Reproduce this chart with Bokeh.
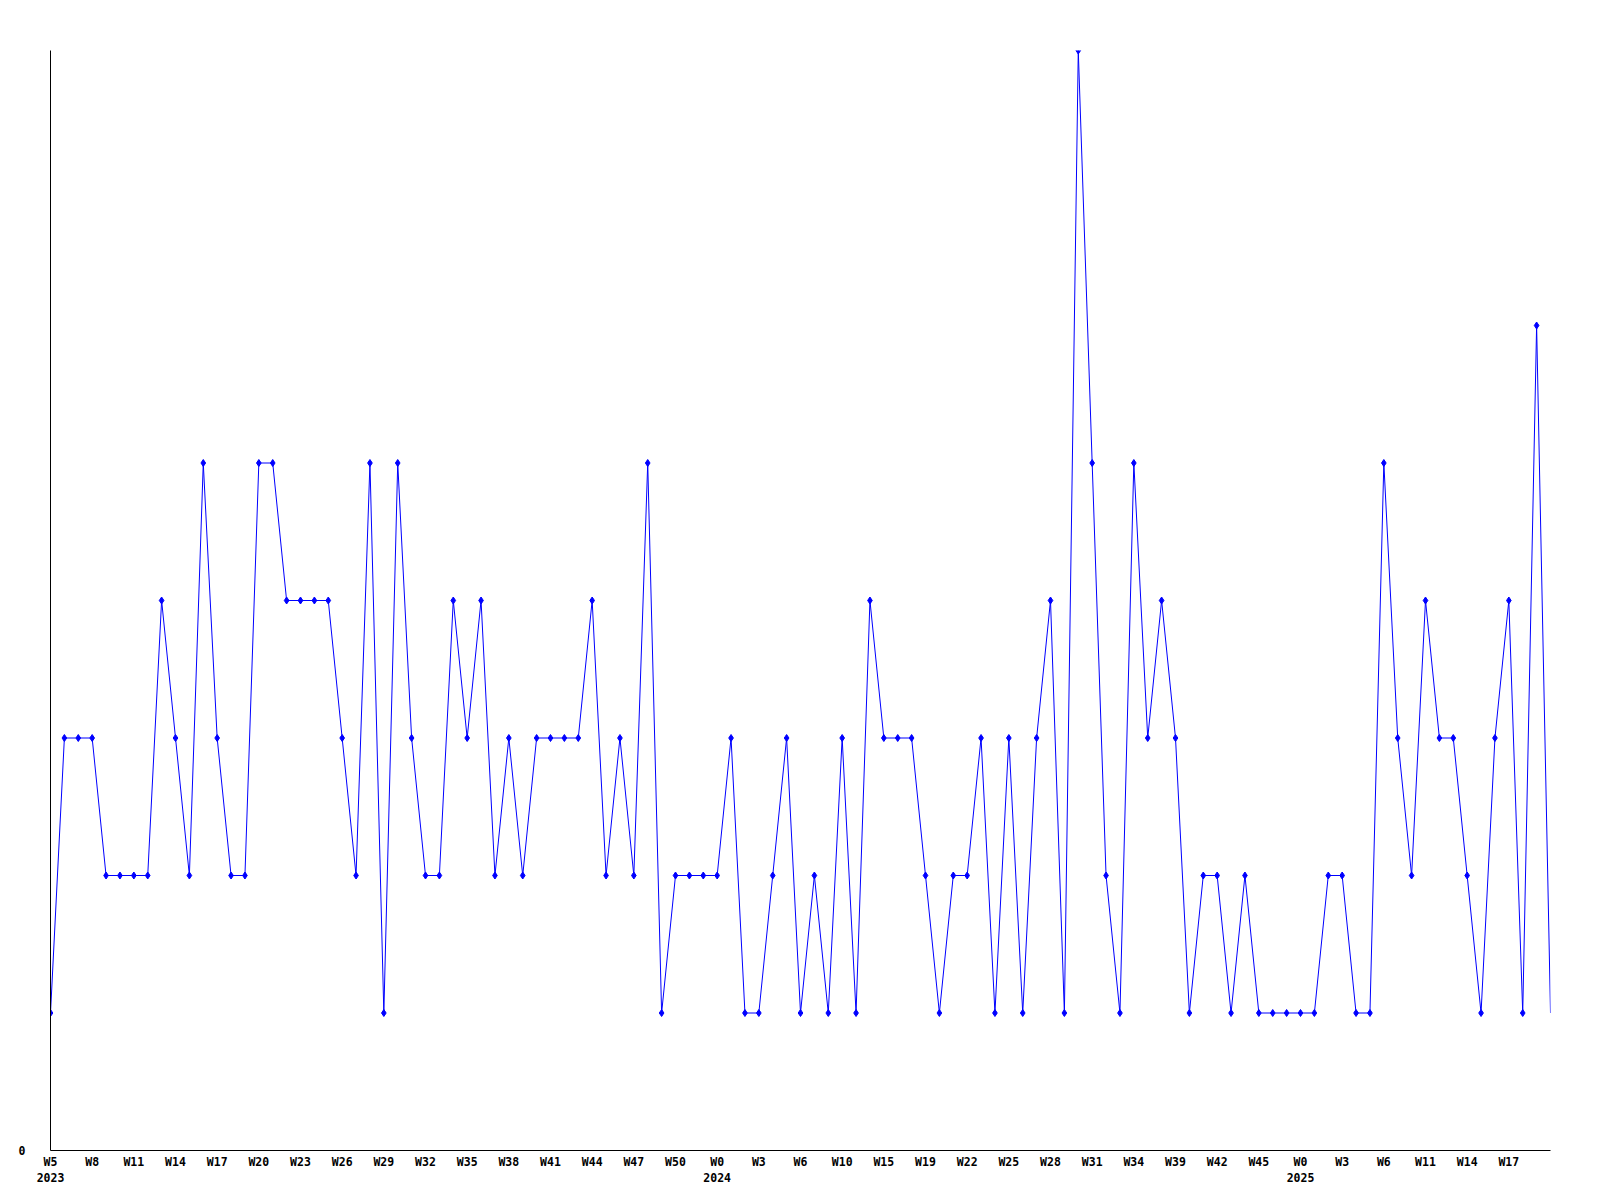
from bokeh.plotting import figure
from bokeh.models import Range1d, FixedTicker, ColumnDataSource
from bokeh.embed import file_html
from bokeh.resources import INLINE

# weekly counts (one value per week, index 0..108)
counts = [1, 3, 3, 3, 2, 2, 2, 2, 4, 3,
          2, 5, 3, 2, 2, 5, 5, 4, 4, 4,
          4, 3, 2, 5, 1, 5, 3, 2, 2, 4,
          3, 4, 2, 3, 2, 3, 3, 3, 3, 4,
          2, 3, 2, 5, 1, 2, 2, 2, 2, 3,
          1, 1, 2, 3, 1, 2, 1, 3, 1, 4,
          3, 3, 3, 2, 1, 2, 2, 3, 1, 3,
          1, 3, 4, 1, 8, 5, 2, 1, 5, 3,
          4, 3, 1, 2, 2, 1, 2, 1, 1, 1,
          1, 1, 2, 2, 1, 1, 5, 3, 2, 4,
          3, 3, 2, 1, 3, 4, 1, 6, 1]
weeks = list(range(len(counts)))

# x tick labels, every third week
tick_weeks = ["W5", "W8", "W11", "W14", "W17", "W20", "W23", "W26", "W29", "W32",
              "W35", "W38", "W41", "W44", "W47", "W50", "W0", "W3", "W6", "W10",
              "W15", "W19", "W22", "W25", "W28", "W31", "W34", "W39", "W42", "W45",
              "W0", "W3", "W6", "W11", "W14", "W17"]
tick_positions = list(range(0, 3 * len(tick_weeks), 3))
year_labels = {0: "2023", 48: "2024", 90: "2025"}

overrides = {}
for pos, wk in zip(tick_positions, tick_weeks):
    overrides[pos] = wk + ("\n" + year_labels[pos] if pos in year_labels else "")

p = figure(width=1592, height=1192, output_backend="svg", toolbar_location=None,
           x_range=Range1d(0, len(counts) - 1), y_range=Range1d(0, 8),
           min_border_left=50, min_border_right=42, min_border_top=50, min_border_bottom=42)
p.outline_line_color = None
p.xgrid.visible = False
p.ygrid.visible = False
p.background_fill_color = "white"
p.border_fill_color = "white"

src = ColumnDataSource(dict(x=weeks, y=counts))
p.line("x", "y", source=src, line_color="#0000ff", line_width=1)
msrc = ColumnDataSource(dict(x=weeks[:-1], y=counts[:-1]))
p.scatter("x", "y", source=msrc, marker="diamond", size=7,
          fill_color="#0000ff", line_color="#0000ff")

font = "DejaVu Sans Mono"

xa = p.xaxis[0]
xa.ticker = FixedTicker(ticks=tick_positions)
xa.major_label_overrides = overrides
xa.major_tick_line_color = None
xa.minor_tick_line_color = None
xa.major_tick_out = 0
xa.major_label_standoff = 4
xa.major_label_text_font = font
xa.major_label_text_font_style = "bold"
xa.major_label_text_font_size = "11.5px"
xa.major_label_text_color = "black"
xa.axis_line_color = "black"

ya = p.yaxis[0]
ya.ticker = FixedTicker(ticks=[0])
ya.major_tick_line_color = None
ya.minor_tick_line_color = None
ya.major_tick_out = 0
ya.major_label_standoff = 25
ya.major_label_text_font = font
ya.major_label_text_font_style = "bold"
ya.major_label_text_font_size = "11.5px"
ya.major_label_text_color = "black"
ya.axis_line_color = "black"

open("out.html", "w").write(file_html(p, INLINE))
